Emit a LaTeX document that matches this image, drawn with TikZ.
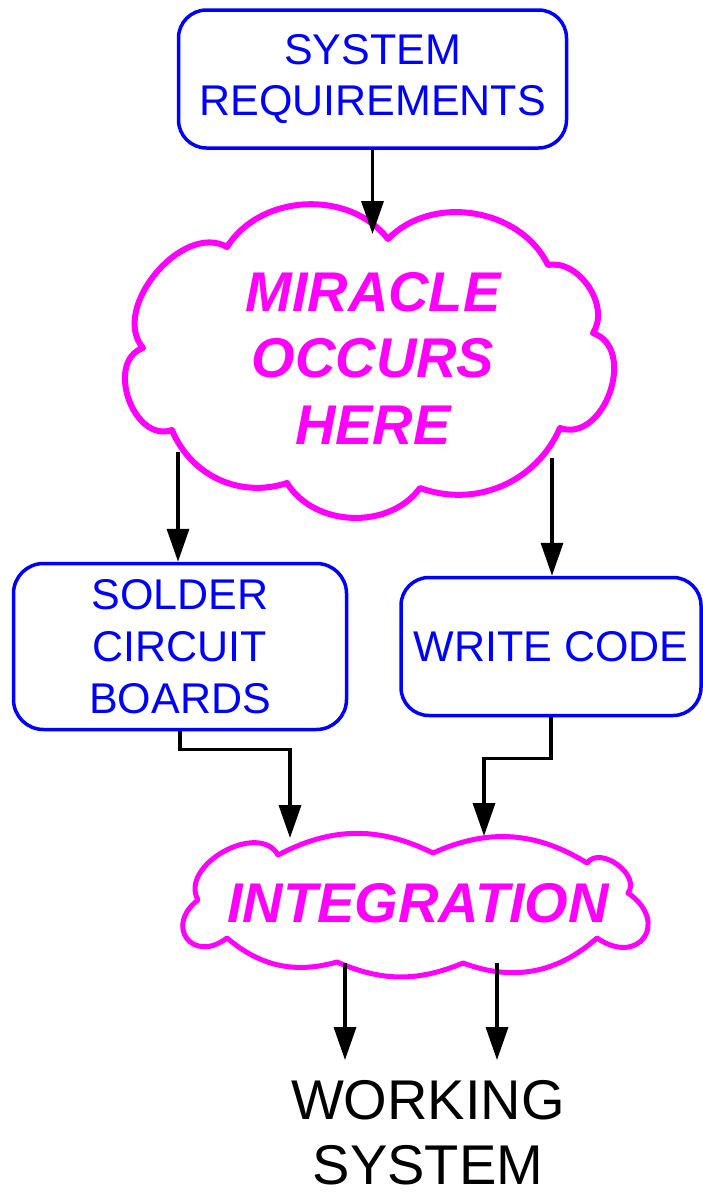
\documentclass[tikz,border=0pt]{standalone}
\usepackage{fontspec}
\setmainfont{Liberation Sans}
\usetikzlibrary{arrows.meta}
\definecolor{boxblue}{RGB}{0,0,255}
\definecolor{cloudmag}{RGB}{255,0,255}
\begin{document}
\begin{tikzpicture}[x=1pt,y=-1pt,
  box/.style={draw=boxblue, line width=3.5pt, rounded corners=28pt, text=boxblue, align=center, inner sep=0pt, font=\fontsize{43}{51}\selectfont},
  cloudline/.style={draw=cloudmag, line width=6pt, line join=round},
  cloudtext/.style={text=cloudmag, align=center, inner sep=0pt, font=\fontsize{56}{66.5}\selectfont\bfseries\itshape},
  plaintext/.style={text=black, align=center, inner sep=0pt, font=\fontsize{56}{65}\selectfont},
  conn/.style={draw=black, line width=3.5pt, -{Triangle[length=33pt,width=22pt]}},
]
\useasboundingbox (0,0) rectangle (703,1194);

% boxes
\node[box, minimum width=388pt, minimum height=138pt] (req) at (372.5,79) {SYSTEM\\REQUIREMENTS};
\node[box, minimum width=333pt, minimum height=166pt, rounded corners=30pt, font=\fontsize{43}{52}\selectfont] (solder) at (180,646.5) {SOLDER\\CIRCUIT\\BOARDS};
\node[box, minimum width=300pt, minimum height=138pt] (code) at (551,646.5) {WRITE CODE};

% cloud texts
\node[cloudtext] (miracle) at (373,358) {MIRACLE\\OCCURS\\HERE};
\node[cloudtext] (integ) at (418,903) {INTEGRATION};
\node[plaintext] (ws) at (428,1133) {WORKING\\SYSTEM};

% cloud outlines
\draw[cloudline] (227,247) to[bend left=55] (388,239) to[bend left=55] (548,265)
  to[bend left=67] (593,333) to[bend left=90, looseness=1.2] (560,428)
  to[bend left=43] (420,488) to[bend left=56] (287,483) to[bend left=43] (172,430)
  to[bend left=90, looseness=1.2] (143,348) to[bend left=80] (227,247) -- cycle;
\draw[cloudline, line width=5pt] (278,855) to[bend left=27] (433,853) to[bend left=28] (587,863)
  to[bend left=90, looseness=1.12] (628,893) to[bend left=90, looseness=2.4] (597,938)
  to[bend left=31] (463,963) to[bend left=23] (337,962) to[bend left=28] (227,938)
  to[bend left=90, looseness=2.3] (198,900) to[bend left=90, looseness=1.1] (278,855) -- cycle;

% connectors
\coordinate (mtop) at (372.5,234);
\coordinate (m1) at (178,452);
\coordinate (m2) at (552,458);
\coordinate (i1) at (290,838);
\coordinate (i2) at (484,836);
\coordinate (o1) at (345,963);
\coordinate (t1) at (345,1060);
\coordinate (o2) at (497,963);
\coordinate (t2) at (497,1060);
\draw[conn] (req.south) -- (mtop);
\draw[conn] (m1) -- (m1 |- solder.north);
\draw[conn] (m2) -- (m2 |- code.north);
\draw[conn] (solder.south) -- ++(0,18) -| (i1);
\draw[conn] (code.south) -- ++(0,41) -| (i2);
\draw[conn] (o1) -- (t1);
\draw[conn] (o2) -- (t2);
\end{tikzpicture}
\end{document}
